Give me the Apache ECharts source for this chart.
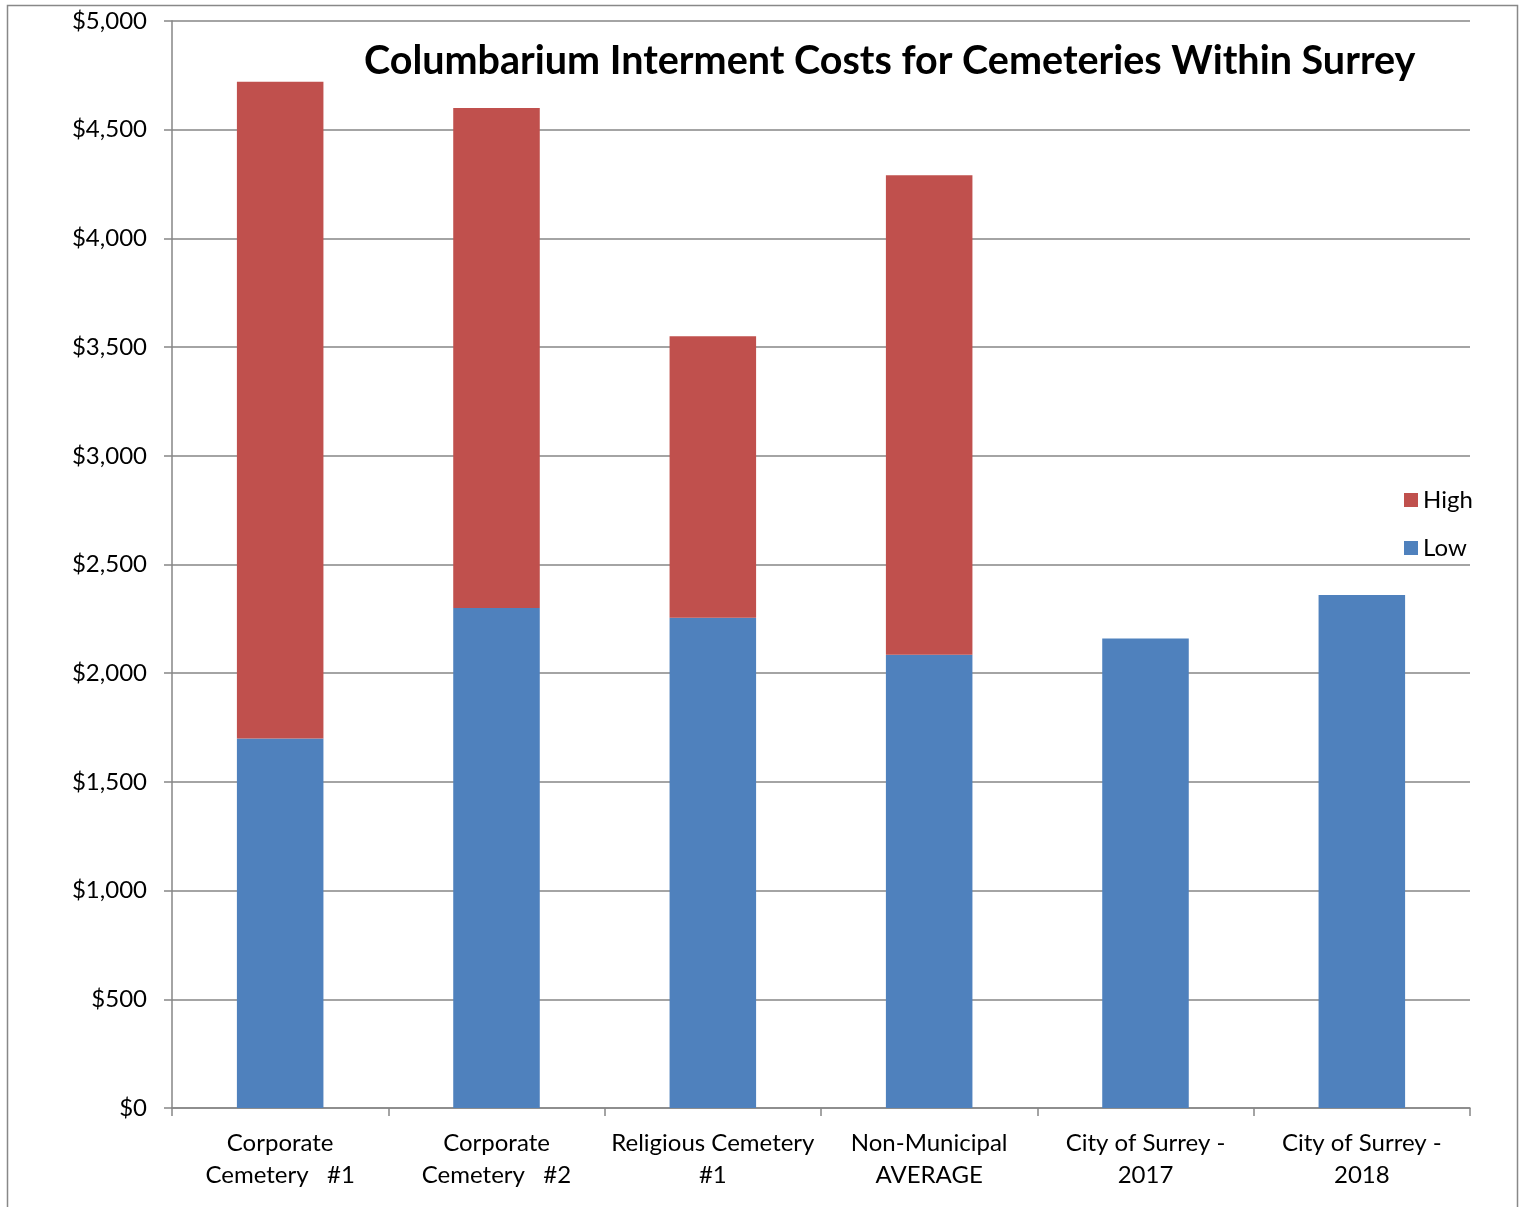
<!DOCTYPE html>
<html>
<head>
<meta charset="utf-8">
<script src="https://cdn.jsdelivr.net/npm/echarts@6/dist/echarts.min.js"></script>
<style>
html,body{margin:0;padding:0;background:#fff;}
#main{width:1523px;height:1207px;}
</style>
</head>
<body>
<div id="main"></div>
<script>
const categories = ['Corporate\nCemetery   #1', 'Corporate\nCemetery   #2', 'Religious Cemetery\n#1', 'Non-Municipal\nAVERAGE', 'City of Surrey -\n2017', 'City of Surrey -\n2018'];
const lowValues = [1700, 2300, 2255, 2085, 2160, 2360];
const highExtra = [3020, 2300, 1295, 2205, '-', '-'];
const yTicks = { min: 0, max: 5000, interval: 500 };

const chart = echarts.init(document.getElementById('main'));
const font = 'Lato, "Open Sans", sans-serif';
chart.setOption({
  animation: false,
  backgroundColor: '#fff',
  textStyle: { fontFamily: font },
  title: {
    text: 'Columbarium Interment Costs for Cemeteries Within Surrey',
    left: 359, top: 36,
    textStyle: { fontFamily: font, fontWeight: 'bold', fontSize: 39.5, color: '#000' }
  },
  graphic: [{
    type: 'rect', silent: true, z: 0,
    shape: { x: 7.5, y: 5.5, width: 1510, height: 1300 },
    style: { fill: null, stroke: '#888', lineWidth: 1.5 }
  }],
  legend: {
    data: ['High', 'Low'],
    orient: 'vertical', left: 1399, top: 483,
    itemWidth: 14, itemHeight: 14, itemGap: 24,
    icon: 'rect',
    textStyle: { fontFamily: font, fontSize: 24, color: '#000' }
  },
  grid: { left: 172, right: 53, top: 21, bottom: 99, containLabel: false },
  xAxis: {
    type: 'category', data: categories,
    axisLine: { lineStyle: { color: '#868686', width: 1.5 } },
    axisTick: { show: true, length: 8, lineStyle: { color: '#868686', width: 1.5 } },
    axisLabel: { color: '#000', fontFamily: font, fontSize: 24, lineHeight: 32, margin: 19, interval: 0 }
  },
  yAxis: {
    type: 'value', min: yTicks.min, max: yTicks.max, interval: yTicks.interval,
    axisLine: { show: true, lineStyle: { color: '#868686', width: 1.5 } },
    axisTick: { show: true, length: 8, lineStyle: { color: '#868686', width: 1.5 } },
    splitLine: { lineStyle: { color: '#868686', width: 1.5 } },
    axisLabel: {
      color: '#000', fontFamily: font, fontSize: 24, margin: 25,
      formatter: v => '$' + v.toLocaleString('en-US')
    }
  },
  series: [
    { name: 'Low', type: 'bar', stack: 'a', data: lowValues, barWidth: '40%',
      itemStyle: { color: '#4F81BD' } },
    { name: 'High', type: 'bar', stack: 'a', data: highExtra, barWidth: '40%',
      itemStyle: { color: '#C0504D' } }
  ]
});
</script>
</body>
</html>
